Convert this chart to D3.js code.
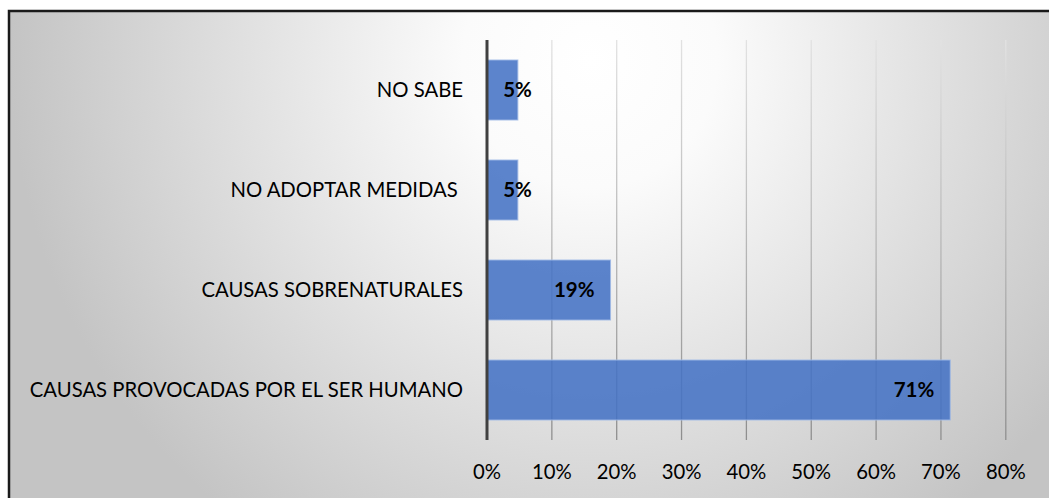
<!DOCTYPE html>
<html>
<head>
<meta charset="utf-8">
<script src="https://cdn.jsdelivr.net/npm/d3@7.9.0/dist/d3.min.js"></script>
<style>
  body { margin: 0; background: #fff; }
  svg { display: block; }
  text { font-family: Lato, "Open Sans", sans-serif; fill: #000; }
</style>
</head>
<body>
<svg id="chart" width="1049" height="498"></svg>
<script>
// categories top -> bottom
const categories = ["NO SABE", "NO ADOPTAR MEDIDAS ", "CAUSAS SOBRENATURALES", "CAUSAS PROVOCADAS POR EL SER HUMANO"];
const values = [0.0476, 0.0476, 0.1905, 0.7143];
const valueLabels = ["5%", "5%", "19%", "71%"];
const tickValues = [0, 0.1, 0.2, 0.3, 0.4, 0.5, 0.6, 0.7, 0.8];

const svg = d3.select("#chart");
const W = 1049, H = 498;

// background gradient + frame
const defs = svg.append("defs");
const bg = defs.append("radialGradient")
  .attr("id", "bg")
  .attr("gradientUnits", "userSpaceOnUse")
  .attr("cx", 590).attr("cy", 60).attr("r", 580);
bg.append("stop").attr("offset", "0%").attr("stop-color", "#ffffff");
bg.append("stop").attr("offset", "22%").attr("stop-color", "#fbfbfb");
bg.append("stop").attr("offset", "100%").attr("stop-color", "#c4c4c4");

const gridGrad = defs.append("linearGradient")
  .attr("id", "gridGrad")
  .attr("gradientUnits", "userSpaceOnUse")
  .attr("x1", 0).attr("y1", 40).attr("x2", 0).attr("y2", 440);
gridGrad.append("stop").attr("offset", "0%").attr("stop-color", "#e2e2e2");
gridGrad.append("stop").attr("offset", "100%").attr("stop-color", "#8e8e8e");

svg.append("rect")
  .attr("x", 9).attr("y", 11)
  .attr("width", W + 10).attr("height", H + 10)
  .attr("fill", "url(#bg)")
  .attr("stroke", "#1a1a1a")
  .attr("stroke-width", 2.5);

const margin = { left: 487, top: 40, right: 43, bottom: 58 };

const x = d3.scaleLinear()
  .domain([0, 0.8])
  .range([margin.left, margin.left + 8 * 64.85]);

const y = d3.scaleBand()
  .domain(categories)
  .range([margin.top, H - margin.bottom])
  .paddingInner(0.4)
  .paddingOuter(0.2);

// gridlines
svg.append("g")
  .selectAll("line")
  .data(tickValues.slice(1))
  .join("line")
  .attr("x1", d => x(d)).attr("x2", d => x(d))
  .attr("y1", margin.top).attr("y2", H - margin.bottom)
  .attr("stroke", "url(#gridGrad)")
  .attr("stroke-width", 1.3);

// bars
svg.append("g")
  .selectAll("rect")
  .data(values)
  .join("rect")
  .attr("x", x(0))
  .attr("y", (d, i) => y(categories[i]))
  .attr("width", d => x(d) - x(0))
  .attr("height", y.bandwidth())
  .attr("fill", "rgba(68,114,196,0.87)")
  .attr("stroke", "rgba(160,185,230,0.9)")
  .attr("stroke-width", 1);

// value axis line
svg.append("line")
  .attr("x1", x(0)).attr("x2", x(0))
  .attr("y1", margin.top).attr("y2", H - margin.bottom)
  .attr("stroke", "#404040")
  .attr("stroke-width", 3);

// category labels
svg.append("g")
  .selectAll("text")
  .data(categories)
  .join("text")
  .attr("x", 463)
  .attr("y", d => y(d) + y.bandwidth() / 2)
  .attr("dy", "0.35em")
  .attr("text-anchor", "end")
  .attr("font-size", 20.3)
  .style("white-space", "pre")
  .text(d => d);

// tick labels
svg.append("g")
  .selectAll("text")
  .data(tickValues)
  .join("text")
  .attr("x", d => x(d))
  .attr("y", 472)
  .attr("dy", "0.35em")
  .attr("text-anchor", "middle")
  .attr("font-size", 20.3)
  .text(d => d3.format(".0%")(d));

// data labels
svg.append("g")
  .selectAll("text")
  .data(values)
  .join("text")
  .attr("x", d => (x(d) - x(0) > 60 ? x(d) - 16 : x(d) + 14))
  .attr("y", (d, i) => y(categories[i]) + y.bandwidth() / 2)
  .attr("dy", "0.35em")
  .attr("text-anchor", "end")
  .attr("font-size", 20.5)
  .attr("font-weight", "bold")
  .text((d, i) => valueLabels[i]);
</script>
</body>
</html>
